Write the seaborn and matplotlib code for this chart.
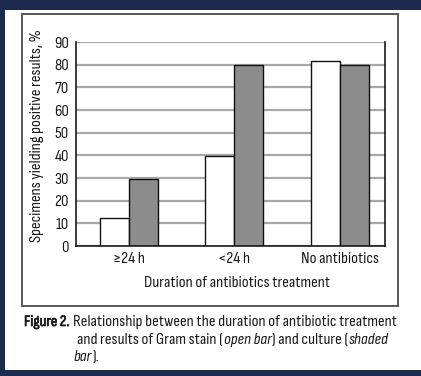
import matplotlib
matplotlib.use("Agg")
import matplotlib.pyplot as plt
import matplotlib.patheffects as pe
import seaborn as sns
import pandas as pd
from matplotlib.patches import Rectangle

categories = ["\u226524 h", "<24 h", "No antibiotics"]
gram_stain = [12.5, 39.5, 81.5]
culture = [29.5, 80, 80]
series_names = ["Gram stain", "Culture"]
y_ticks = [0, 10, 20, 30, 40, 50, 60, 70, 80, 90]

sns.set_theme(style="white")
FONT = ["Sofia Sans Condensed", "Liberation Sans Narrow", "DejaVu Sans"]
plt.rcParams["font.family"] = FONT
TXT = "#1a1a1a"

df = pd.DataFrame({
    "duration": categories * 2,
    "value": gram_stain + culture,
    "test": [series_names[0]] * 3 + [series_names[1]] * 3,
})

W, H = 421, 376
fig = plt.figure(figsize=(W / 100, H / 100), dpi=100)
fig.patch.set_facecolor("#1c2a4e")

def fx(px):
    return px / W

def fy(py):
    return 1 - py / H

# white page
fig.patches.append(Rectangle((fx(5), fy(370)), 1 - fx(5), fy(10) - fy(370),
                             transform=fig.transFigure, facecolor="white",
                             edgecolor="none", zorder=-3))
# outer frame box
fig.patches.append(Rectangle((fx(22), fy(306)), fx(398) - fx(22), fy(14) - fy(306),
                             transform=fig.transFigure, facecolor="none",
                             edgecolor="#4a4a4a", linewidth=1.3, zorder=-2))

ax = fig.add_axes([fx(76), fy(246), fx(385) - fx(76), fy(42) - fy(246)])
ax.set_zorder(2)
ax.set_facecolor("none")

sns.barplot(data=df, x="duration", y="value", hue="test", ax=ax,
            palette=["white", "#8c8c8c"], edgecolor="#111111", linewidth=1.0,
            width=0.55, gap=0, legend=False, saturation=1)

ax.set_ylim(0, 90)
ax.set_xlim(-0.5, 2.43)
ax.set_yticks(y_ticks)
ax.set_yticklabels([str(v) for v in y_ticks], fontsize=12, color=TXT)
ax.tick_params(axis="y", direction="out", length=4, width=1, color=TXT, pad=1)
ax.tick_params(axis="x", length=0, pad=4, labelsize=12, labelcolor=TXT)

ax.yaxis.grid(True, color="#a8a8a8", linewidth=1.6)
ax.set_axisbelow(True)

for s in ["left", "bottom", "right"]:
    ax.spines[s].set_visible(True)
    ax.spines[s].set_color(TXT)
    ax.spines[s].set_linewidth(1.2)
ax.spines["top"].set_visible(False)

ax.set_ylabel("Specimens yielding positive results, %", fontsize=12, color=TXT)
ax.yaxis.set_label_coords((44 - 76) / 309, 0.54)
ax.set_xlabel("Duration of antibiotics treatment", fontsize=12, color=TXT)
ax.xaxis.set_label_coords(0.52, -0.145)

# caption with mixed styles
cap_fs = 12
y1, y2, y3 = fy(326), fy(344), fy(361)


def after(prev, s, style="normal", gap=0.6, **kw):
    return fig.add_artist(plt.Annotation(s, xy=(1, 0), xycoords=prev, xytext=(gap, 0),
                                         textcoords="offset points", fontsize=cap_fs,
                                         style=style, color=TXT, va="bottom", ha="left", **kw))

f = fig.text(fx(24), y1, "Figure 2.", fontsize=11.5, color=TXT, va="baseline",
             path_effects=[pe.withStroke(linewidth=0.5, foreground=TXT)])
after(f, "Relationship between the duration of antibiotic treatment", gap=2.5)

a = fig.text(fx(77), y2, "and results of Gram stain (", fontsize=cap_fs, color=TXT,
             va="baseline")
b = after(a, "open bar", "italic")
c = after(b, ") and culture (")
d = after(c, "shaded", "italic")
e = fig.text(fx(74), y3, "bar", fontsize=cap_fs, style="italic", color=TXT, va="baseline")
after(e, ").")

fig.savefig("out.png", dpi=100, facecolor=fig.get_facecolor())
